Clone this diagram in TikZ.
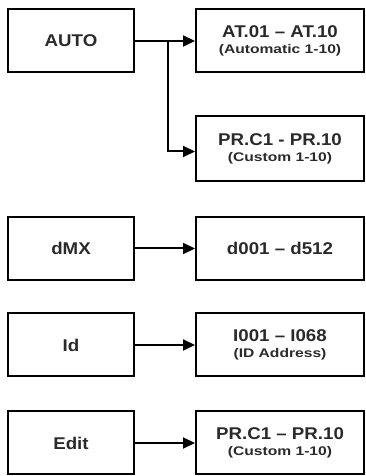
\documentclass[tikz,border=0pt]{standalone}
\usepackage{fontspec}
\setmainfont{Liberation Sans}
\newfontfamily\mainf[FakeStretch=1.1,Ligatures=TeX]{Liberation Sans}
\newfontfamily\subf[FakeStretch=1.25,Ligatures=TeX]{Liberation Sans}
\usetikzlibrary{arrows.meta}
\definecolor{txt}{HTML}{2A2A2A}
\newcommand{\subt}[1]{{\subf\bfseries\fontsize{12.5}{14}\selectfont #1}}
\tikzset{
  boxbase/.style={draw=black, line width=2pt, minimum height=63pt, inner sep=0pt, text=txt, font=\mainf\bfseries\fontsize{17}{17}\selectfont, align=center},
  lbox/.style={boxbase, minimum width=126pt},
  rbox/.style={boxbase, minimum width=168pt},
  conn/.style={line width=2pt, -{Triangle[length=12pt,width=11pt]}}
}
\begin{document}
\begin{tikzpicture}[x=1pt,y=1pt]
\useasboundingbox (0,0) rectangle (366,476);
\node[lbox] (auto) at (71,435) {AUTO};
\node[rbox] (at) at (280,435) {AT.01 – AT.10\\[-1pt]\subt{(Automatic 1-10)}};
\node[rbox, minimum height=65pt] (pr) at (280,327.5) {PR.C1 - PR.10\\[-1pt]\subt{(Custom 1-10)}};
\node[lbox] (dmx) at (71,227.5) {dMX};
\node[rbox] (d) at (280,227.5) {d001 – d512};
\node[lbox] (id) at (71,131) {Id};
\node[rbox] (i) at (280,131) {I001 – I068\\[-1pt]\subt{(ID Address)}};
\node[lbox] (edit) at (71,33) {Edit};
\node[rbox] (pe) at (280,33) {PR.C1 – PR.10\\[-1pt]\subt{(Custom 1-10)}};
\coordinate (br) at (168,435);
\draw[conn] (auto.east) -- (at.west);
\draw[conn] (br) |- ([yshift=-3pt]pr.west);
\draw[conn] (dmx.east) -- (d.west);
\draw[conn] (id.east) -- (i.west);
\draw[conn] (edit.east) -- (pe.west);
\end{tikzpicture}
\end{document}
